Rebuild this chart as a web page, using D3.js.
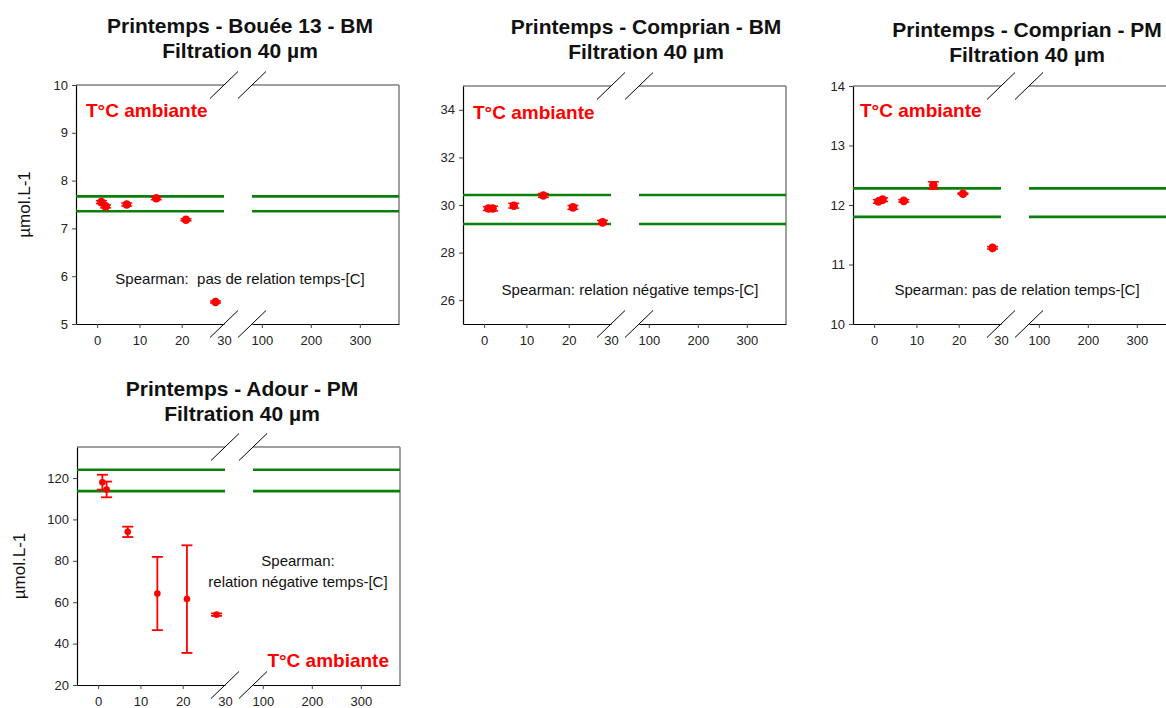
<!DOCTYPE html>
<html>
<head>
<meta charset="utf-8">
<script src="https://cdn.jsdelivr.net/npm/d3@7"></script>
<style>
  body { margin: 0; background: #fff; }
  text { font-family: "Liberation Sans", Arial, sans-serif; }
</style>
</head>
<body>
<div id="chart"></div>
<script>
// sampling days (x) shared by every panel
const days = [1, 2, 7, 14, 21, 28];

// Printemps - Bouée 13 - BM
const boueeBM = [7.55, 7.46, 7.5, 7.63, 7.18, 5.46];
const boueeBMErr = [0.03, 0.03, 0.03, 0.03, 0.02, 0.02];
const boueeBMRef = [7.67, 7.36];

// Printemps - Comprian - BM
const comprianBM = [29.85, 29.85, 29.97, 30.4, 29.9, 29.27];
const comprianBMErr = [0.08, 0.1, 0.1, 0.08, 0.08, 0.08];
const comprianBMRef = [30.42, 29.2];

// Printemps - Comprian - PM
const comprianPM = [12.06, 12.09, 12.07, 12.33, 12.19, 11.28];
const comprianPMErr = [0.03, 0.03, 0.02, 0.06, 0.01, 0.02];
const comprianPMRef = [12.28, 11.8];

// Printemps - Adour - PM
const adourPM = [118, 114.5, 94, 64.2, 61.5, 54];
const adourPMErr = [3.6, 3.8, 2.5, 17.7, 26, 0.6];
const adourPMRef = [124, 113.7];

const xTicksLow = [0, 10, 20, 30];
const xTicksHigh = [100, 200, 300];

const titles = [
  ["Printemps - Bouée 13 - BM", "Filtration 40 µm"],
  ["Printemps - Comprian - BM", "Filtration 40 µm"],
  ["Printemps - Comprian - PM", "Filtration 40 µm"],
  ["Printemps - Adour - PM", "Filtration 40 µm"],
];
const spearman = [
  ["Spearman:  pas de relation temps-[C]"],
  ["Spearman: relation négative temps-[C]"],
  ["Spearman: pas de relation temps-[C]"],
  ["Spearman:", "relation négative temps-[C]"],
];

const W = 1166, H = 708;
const svg = d3.select("#chart").append("svg")
  .attr("width", W).attr("height", H);

const red = "#ff0000";
const green = "#0b7f0b";

const panels = [
  { left: 76, top: 85, h: 239, y: boueeBM, err: boueeBMErr, ref: boueeBMRef,
    yDomain: [5, 10], yTicks: d3.range(5, 11, 1), yLabelX: 24,
    title: [240, 33, 58], tempPos: [86, 117, "start"], spPos: [240, 284],
    r: 4.3, sw: 1.5 },
  { left: 463, top: 86, h: 238, y: comprianBM, err: comprianBMErr, ref: comprianBMRef,
    yDomain: [25, 35], yTicks: d3.range(26, 35, 2), yLabelX: null,
    title: [646, 34, 59], tempPos: [473, 119, "start"], spPos: [630, 295],
    r: 4.3, sw: 1.5 },
  { left: 853, top: 86, h: 238, y: comprianPM, err: comprianPMErr, ref: comprianPMRef,
    yDomain: [10, 14], yTicks: d3.range(10, 15, 1), yLabelX: null,
    title: [1027, 37, 62], tempPos: [860, 117, "start"], spPos: [1017, 295],
    r: 4.3, sw: 1.5 },
  { left: 77, top: 447, h: 238, y: adourPM, err: adourPMErr, ref: adourPMRef,
    yDomain: [20, 135], yTicks: d3.range(20, 121, 20), yLabelX: 19,
    title: [242, 396, 421], tempPos: [389, 667, "end"], spPos: [298, 566],
    r: 3.3, sw: 1.8 },
];

const pw = 323;     // plot width
const seg1 = 148;   // end of low segment
const seg2 = 176;   // start of high segment

panels.forEach((p, i) => {
  const g = svg.append("g").attr("transform", `translate(${p.left},${p.top})`);
  const xLow = d3.scaleLinear().domain([-5, 30]).range([0, seg1]);
  const xHigh = d3.scaleLinear().domain([80, 380]).range([seg2, pw]);
  const y = d3.scaleLinear().domain(p.yDomain).range([p.h, 0]);

  // title
  titles[i].forEach((t, k) => {
    svg.append("text")
      .attr("x", p.title[0]).attr("y", p.title[k + 1])
      .attr("text-anchor", "middle")
      .style("font-size", "21px").style("font-weight", "bold").style("fill", "#111")
      .text(t);
  });

  // frame (top + right gray)
  g.append("line").attr("x1", 0).attr("x2", seg1).attr("y1", 0).attr("y2", 0)
    .attr("stroke", "#808080").attr("stroke-width", 1.5);
  g.append("line").attr("x1", seg2).attr("x2", pw).attr("y1", 0).attr("y2", 0)
    .attr("stroke", "#808080").attr("stroke-width", 1.5);
  g.append("line").attr("x1", pw).attr("x2", pw).attr("y1", 0).attr("y2", p.h)
    .attr("stroke", "#808080").attr("stroke-width", 1.5);

  // y axis
  const yAxis = d3.axisLeft(y).tickValues(p.yTicks).tickSize(4).tickSizeOuter(0)
    .tickFormat(d3.format("d"));
  const ya = g.append("g").call(yAxis);
  ya.select(".domain").attr("stroke", "#000").attr("stroke-width", 1.2);
  ya.selectAll(".tick line").attr("stroke", "#444");
  ya.selectAll(".tick text").attr("x", -8)
    .style("font-size", "13px").style("fill", "#222").style("font-family", "Liberation Sans");

  // x axis, two segments
  const xa1 = g.append("g").attr("transform", `translate(0,${p.h})`)
    .call(d3.axisBottom(xLow).tickValues(xTicksLow).tickSize(4).tickSizeOuter(0));
  const xa2 = g.append("g").attr("transform", `translate(0,${p.h})`)
    .call(d3.axisBottom(xHigh).tickValues(xTicksHigh).tickSize(4).tickSizeOuter(0));
  [xa1, xa2].forEach((a) => {
    a.select(".domain").attr("stroke", "#000").attr("stroke-width", 1.2);
    a.selectAll(".tick line").attr("stroke", "#444");
    a.selectAll(".tick text").attr("y", 12)
      .style("font-size", "13px").style("fill", "#222").style("font-family", "Liberation Sans");
  });
  xa1.selectAll(".tick").filter((d) => d === 30).select("line").remove();

  // break marks
  [0, p.h].forEach((yy) => {
    [seg1, seg2].forEach((xx) => {
      g.append("line")
        .attr("x1", xx - 14).attr("y1", yy + 13.5)
        .attr("x2", xx + 14).attr("y2", yy - 13.5)
        .attr("stroke", "#000").attr("stroke-width", 1);
    });
  });

  // reference lines
  p.ref.forEach((r) => {
    g.append("line").attr("x1", 0).attr("x2", seg1)
      .attr("y1", y(r)).attr("y2", y(r))
      .attr("stroke", green).attr("stroke-width", 2.6);
    g.append("line").attr("x1", seg2).attr("x2", pw)
      .attr("y1", y(r)).attr("y2", y(r))
      .attr("stroke", green).attr("stroke-width", 2.6);
  });

  // error bars
  const pts = days.map((d, k) => ({ x: d, v: p.y[k], e: p.err[k] }));
  const eb = g.selectAll(".eb").data(pts).enter().append("g");
  eb.append("line")
    .attr("x1", (d) => xLow(d.x)).attr("x2", (d) => xLow(d.x))
    .attr("y1", (d) => y(d.v - d.e)).attr("y2", (d) => y(d.v + d.e))
    .attr("stroke", red).attr("stroke-width", p.sw);
  [-1, 1].forEach((s) => {
    eb.append("line")
      .attr("x1", (d) => xLow(d.x) - 5.5).attr("x2", (d) => xLow(d.x) + 5.5)
      .attr("y1", (d) => y(d.v + s * d.e)).attr("y2", (d) => y(d.v + s * d.e))
      .attr("stroke", red).attr("stroke-width", p.sw);
  });

  // points
  g.selectAll(".pt").data(pts).enter().append("circle")
    .attr("cx", (d) => xLow(d.x)).attr("cy", (d) => y(d.v))
    .attr("r", p.r)
    .attr("fill", red);

  // T°C ambiante
  svg.append("text")
    .attr("x", p.tempPos[0]).attr("y", p.tempPos[1])
    .attr("text-anchor", p.tempPos[2])
    .style("font-size", "19px").style("font-weight", "bold").style("fill", red)
    .text("T°C ambiante");

  // spearman note
  spearman[i].forEach((line, k) => {
    svg.append("text")
      .attr("x", p.spPos[0]).attr("y", p.spPos[1] + k * 21)
      .attr("text-anchor", "middle")
      .attr("xml:space", "preserve")
      .style("white-space", "pre")
      .style("font-size", "15px").style("fill", "#111")
      .text(line);
  });

  // y label
  if (p.yLabelX !== null) {
    svg.append("text")
      .attr("transform", `translate(${p.yLabelX},${p.top + p.h / 2}) rotate(-90)`)
      .attr("text-anchor", "middle")
      .attr("dy", "0.35em")
      .style("font-size", "17px").style("fill", "#111")
      .text("µmol.L-1");
  }
});
</script>
</body>
</html>
